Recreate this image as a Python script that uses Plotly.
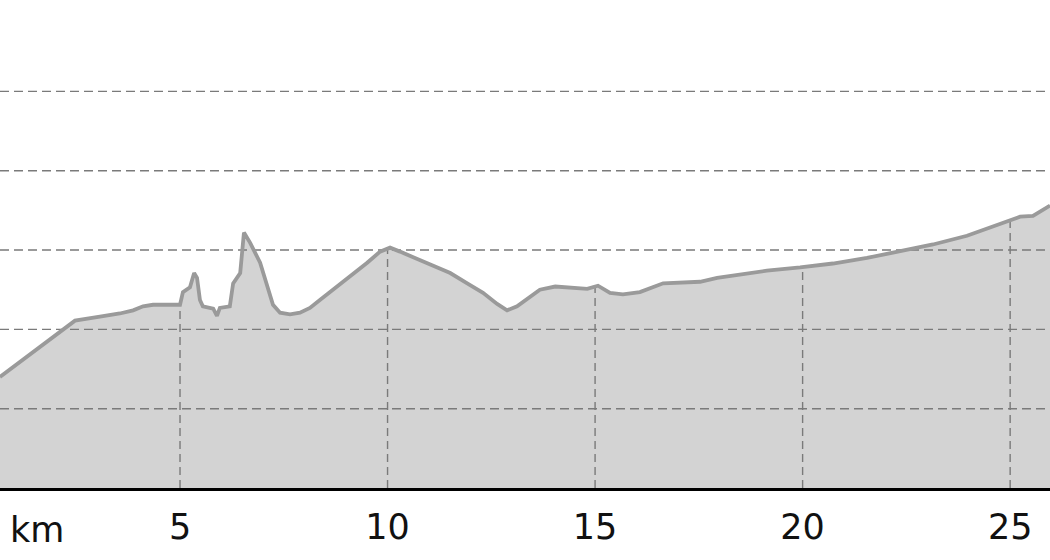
import numpy as np
import plotly.graph_objects as go

# Distance along the route (km) and elevation (m)
distance_km = [0.66, 1.15, 1.46, 1.94, 2.28, 2.47, 3.07, 3.55, 3.87, 4.11, 4.35, 5.00,
               5.07, 5.24, 5.34, 5.41, 5.48, 5.55, 5.80, 5.89, 5.96, 6.20, 6.28, 6.45,
               6.54, 6.69, 6.93, 7.10, 7.24, 7.41, 7.65, 7.89, 8.13, 8.37, 8.69, 9.10,
               9.51, 9.82, 10.06, 10.30, 10.71, 11.10, 11.51, 11.92, 12.30, 12.64, 12.88,
               13.12, 13.43, 13.67, 14.04, 14.40, 14.81, 15.07, 15.36, 15.67, 16.08,
               16.64, 17.53, 17.94, 18.42, 19.14, 19.94, 20.73, 21.55, 22.35, 23.14,
               23.96, 25.00, 25.24, 25.55, 25.96]
elevation_m = [240, 259, 271, 291, 303, 311, 316, 320, 324, 329, 331, 331,
               347, 353, 371, 365, 337, 329, 326, 317, 327, 329, 358, 371,
               422, 409, 384, 354, 331, 321, 319, 321, 327, 337, 350, 366,
               384, 398, 403, 398, 389, 381, 371, 358, 346, 332, 324,
               329, 341, 350, 354, 353, 351, 355, 346, 344, 347,
               358, 360, 365, 369, 374, 378, 383, 390, 399, 407,
               418, 437, 442, 443, 456]

grid_elev = [200, 300, 400, 500, 600]
tick_km = [5, 10, 15, 20, 25]
tick_text = ["5", "10", "15", "20", "25"]
axis_label = "km"

x_range = [0.663, 25.96]
y_range = [100, 715.2]

FILL = "#d3d3d3"
LINE = "#9a9a9a"
GRID = "#7a7a7a"
FONT = "DejaVu Sans"

fig = go.Figure()

# filled area
fig.add_trace(go.Scatter(x=distance_km, y=elevation_m, mode="lines",
                         line=dict(width=0, color=FILL), fill="tozeroy",
                         fillcolor=FILL, hoverinfo="skip", showlegend=False))

# horizontal dashed grid lines (over the fill)
for g in grid_elev:
    fig.add_trace(go.Scatter(x=x_range, y=[g, g], mode="lines",
                             line=dict(color=GRID, width=1.4, dash="9px,5px"),
                             hoverinfo="skip", showlegend=False))

# vertical dashed grid lines, only below the profile
for k in tick_km:
    top = float(np.interp(k, distance_km, elevation_m))
    fig.add_trace(go.Scatter(x=[k, k], y=[y_range[0], top], mode="lines",
                             line=dict(color=GRID, width=1.4, dash="8px,5px"),
                             hoverinfo="skip", showlegend=False))

# profile line
fig.add_trace(go.Scatter(x=distance_km, y=elevation_m, mode="lines",
                         line=dict(color=LINE, width=3.8),
                         hoverinfo="skip", showlegend=False))

fig.update_layout(
    width=1050, height=560,
    margin=dict(l=0, r=0, t=0, b=72),
    paper_bgcolor="white", plot_bgcolor="white",
    xaxis=dict(range=x_range, showgrid=False, zeroline=False,
               tickmode="array", tickvals=tick_km, ticktext=tick_text,
               ticks="", ticklabelstandoff=6,
               tickfont=dict(family=FONT, size=35, color="#111111"),
               showline=True, linecolor="#000000", linewidth=2.5),
    yaxis=dict(range=y_range, showgrid=False, zeroline=False,
               showticklabels=False, ticks="", showline=False),
    annotations=[dict(text=axis_label, xref="paper", yref="paper",
                      x=0.0075, y=-0.04, xanchor="left", yanchor="top",
                      showarrow=False,
                      font=dict(family=FONT, size=35, color="#111111"))],
)

fig.write_html("out.html", config={"displayModeBar": False},
               post_script="document.body.style.margin='0';document.body.style.overflow='hidden';")
